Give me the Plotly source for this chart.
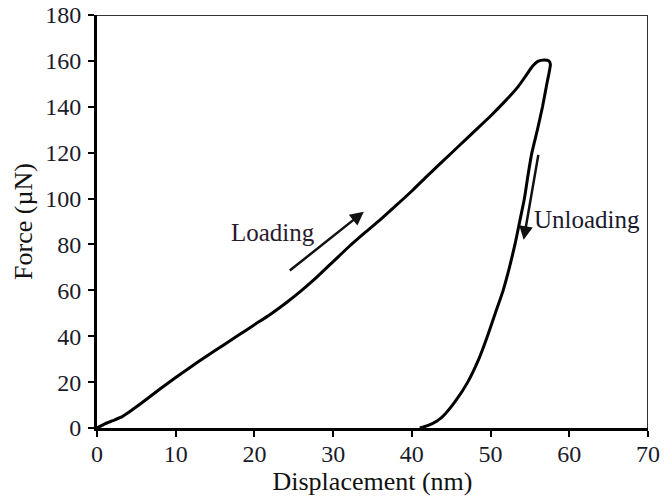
import plotly.graph_objects as go

# Loading branch (displacement nm, force µN)
load_x = [0, 1, 2, 3, 4, 6, 8, 10, 12, 14, 16, 18, 20, 22, 24, 26, 28, 30, 32, 34, 36, 38, 40, 42, 44, 46, 48, 50, 52, 53.5, 54.5, 55.3, 56, 56.8, 57.4, 57.6]
load_y = [0, 1.8, 3.2, 4.6, 6.8, 11.8, 17, 22, 26.8, 31.5, 36, 40.5, 45, 49.5, 54.5, 60, 66, 72.5, 79, 85, 90.8, 97, 103.3, 110, 116.5, 123, 129.5, 136, 143, 148.8, 153.6, 157.6, 159.8, 160.4, 160, 158.5]

# Unloading branch
unload_x = [57.6, 57.15, 56.6, 55.95, 55.25, 54.75, 54.3, 53.7, 53.1, 52.4, 51.6, 50.6, 49.6, 48.5, 47.1, 45.6, 44.2, 43.2, 42.0, 41.0]
unload_y = [158.5, 150, 140, 130, 120, 110, 100, 90, 80, 70, 60, 50, 40, 30, 20, 12, 6, 3, 1, 0]

x_ticks = [0, 10, 20, 30, 40, 50, 60, 70]
y_ticks = [0, 20, 40, 60, 80, 100, 120, 140, 160, 180]

font_family = "Liberation Serif"

fig = go.Figure()
fig.add_trace(go.Scatter(
    x=load_x + unload_x[1:], y=load_y + unload_y[1:],
    mode="lines", line=dict(color="black", width=3, shape="spline", smoothing=0.5),
    showlegend=False, hoverinfo="skip"))

# mirror frame (top/right)
fig.add_shape(type="line", xref="x", yref="y", x0=0, x1=70, y0=180, y1=180,
              line=dict(color="#333333", width=2))
fig.add_shape(type="line", xref="x", yref="y", x0=70, x1=70, y0=0, y1=180,
              line=dict(color="#333333", width=2))

# Arrows
fig.add_annotation(x=33.9, y=94.3, ax=24.3, ay=68.1, xref="x", yref="y", axref="x", ayref="y",
                   text="", showarrow=True, arrowhead=2, arrowsize=1.1, arrowwidth=2.5, arrowcolor="#111")
fig.add_annotation(x=54.2, y=82.0, ax=56.1, ay=119.7, xref="x", yref="y", axref="x", ayref="y",
                   text="", showarrow=True, arrowhead=2, arrowsize=1.1, arrowwidth=2.5, arrowcolor="#111")

fig.add_annotation(x=22.3, y=85.4, text="Loading", showarrow=False,
                   font=dict(family=font_family, size=25, color="#2a1a2e"))
fig.add_annotation(x=62.3, y=90.7, text="Unloading", showarrow=False,
                   font=dict(family=font_family, size=25, color="#1a1a2e"))

fig.update_layout(
    width=664, height=500,
    margin=dict(l=97, r=16, t=15, b=72),
    paper_bgcolor="white", plot_bgcolor="white",
    font=dict(family=font_family, color="#111"),
)
fig.update_xaxes(range=[0, 70], tickvals=x_ticks, ticktext=[str(v) for v in x_ticks], automargin=False,
                 showgrid=False, zeroline=False, showline=True, linecolor="black", linewidth=3,
                 ticks="outside", ticklen=6, tickwidth=2, tickcolor="black", ticklabelstandoff=-4,
                 tickfont=dict(family=font_family, size=24, color="#1a1a2a"),
                 title=dict(text="Displacement (nm)", font=dict(family=font_family, size=26, color="#111"), standoff=0))
fig.update_yaxes(range=[0, 180], tickvals=y_ticks, ticktext=[str(v) for v in y_ticks], automargin=False,
                 showgrid=False, zeroline=False, showline=True, linecolor="black", linewidth=3,
                 ticks="outside", ticklen=6, tickwidth=2, tickcolor="black", ticklabelstandoff=2,
                 tickfont=dict(family=font_family, size=24, color="#1a1a2a"),
                 title=dict(text="Force (µN)", font=dict(family=font_family, size=26, color="#111"), standoff=6))

fig.write_html("out.html", config={"displayModeBar": False},
               post_script="document.body.style.margin='0';document.body.style.overflow='hidden';")
